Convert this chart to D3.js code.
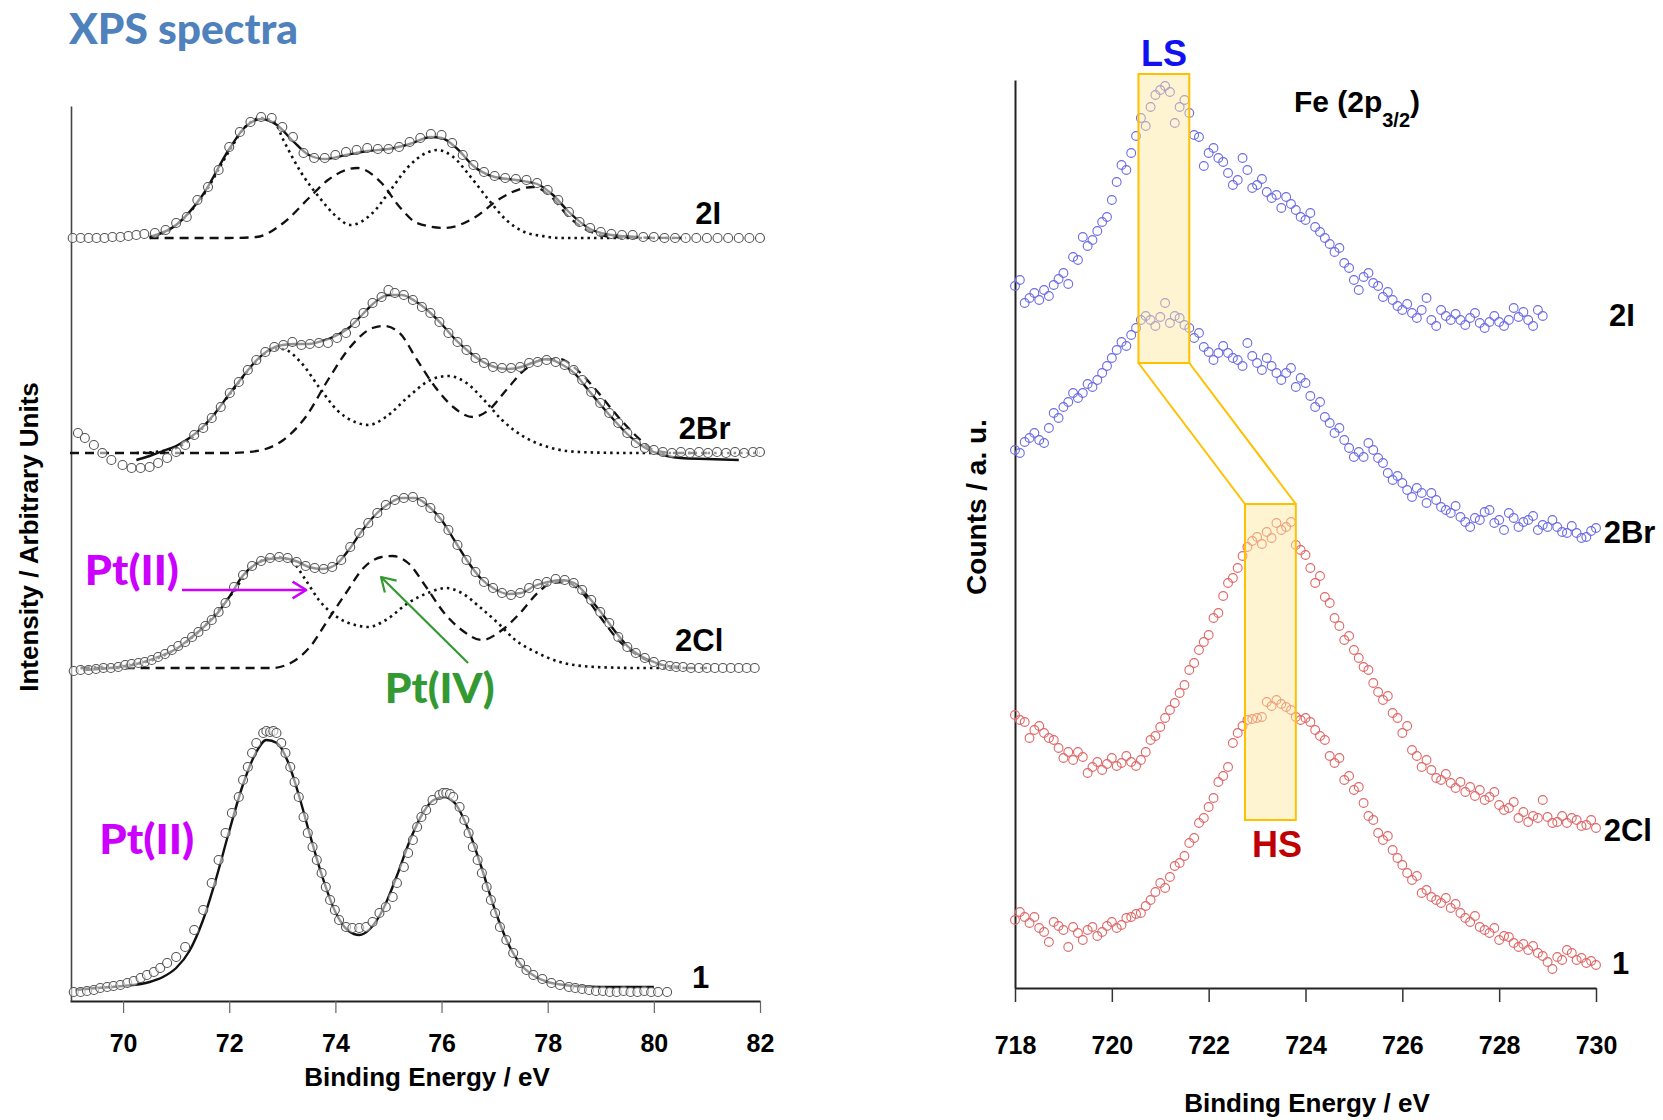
<!DOCTYPE html>
<html><head><meta charset="utf-8">
<script src="https://cdn.jsdelivr.net/npm/d3@7"></script>
<style>
body{margin:0;background:#fff}
svg text{font-family:"Liberation Sans",Arial,Helvetica,sans-serif;font-weight:bold;fill:#000}
</style>
</head><body>
<svg id="chart" width="1663" height="1120"></svg>
<script>
// ---------------- LEFT PANEL: Pt 4f spectra (binding energy eV, intensity a.u.) ----------------
const ptTicks = [70,72,74,76,78,80,82];
const ptSeries = ["2I","2Br","2Cl","1"];

const pt2I_data = [[69.05,763],[69.2,763],[69.35,763],[69.5,763],[69.65,763],[69.8,764],[69.95,764],[70.1,765],[70.25,766],[70.4,767],[70.6,768],[70.8,771],[71.0,778],[71.2,784],[71.4,801],[71.6,814],[71.8,831],[72.0,854],[72.2,869],[72.4,879],[72.6,884],[72.8,883],[73.0,874],[73.2,864],[73.4,848],[73.6,843],[73.8,843],[74.0,846],[74.2,849],[74.4,851],[74.6,853],[74.8,852],[75.0,852],[75.2,854],[75.4,859],[75.6,863],[75.8,867],[76.0,866],[76.2,858],[76.4,846],[76.6,836],[76.8,829],[77.0,825],[77.2,823],[77.4,822],[77.6,821],[77.8,818],[78.0,811],[78.2,801],[78.4,789],[78.6,779],[78.8,773],[79.0,769],[79.2,767],[79.4,766],[79.6,766],[79.8,764],[80.0,764],[80.2,763],[80.4,763],[80.6,763],[80.8,763],[81.0,763],[81.2,763],[81.4,763],[81.6,763],[81.8,763],[82.0,763]];
const pt2I_fit = [[70.5,764],[71.0,776],[71.5,806],[72.0,852],[72.3,874],[72.6,882],[72.9,876],[73.2,860],[73.5,846],[73.8,842],[74.2,846],[74.6,850],[75.0,852],[75.4,857],[75.8,864],[76.0,863],[76.3,852],[76.6,835],[77.0,824],[77.4,821],[77.8,817],[78.1,806],[78.4,789],[78.8,772],[79.2,766],[79.7,764]];
const pt2I_ptII = [[70.5,763],[71.0,776],[71.5,805],[72.0,850],[72.3,874],[72.6,883],[72.85,879],[73.02,861],[73.36,828],[73.69,804],[74.03,784],[74.28,776],[74.7,788],[75.04,811],[75.37,834],[75.71,848],[75.92,851],[76.22,844],[76.55,824],[76.89,801],[77.22,781],[77.56,769],[77.9,765],[78.23,763],[80.6,763]];
const pt2I_ptIV = [[70.5,763],[72.0,763],[72.51,764],[73.02,778],[73.52,804],[73.86,821],[74.2,831],[74.41,833],[74.87,818],[75.21,794],[75.54,778],[76.05,773],[76.64,784],[77.06,801],[77.56,813],[77.73,814],[78.07,804],[78.4,784],[78.74,771],[79.24,764],[80.5,763]];

const pt2Br_data = [[69.15,568],[69.28,563],[69.45,556],[69.61,548],[69.78,541],[69.99,536],[70.16,533],[70.33,533],[70.5,534],[70.66,538],[70.83,543],[71.0,549],[71.17,556],[71.34,566],[71.51,573],[71.67,583],[71.84,594],[72.01,608],[72.18,619],[72.35,631],[72.51,641],[72.68,649],[72.85,654],[73.02,656],[73.19,659],[73.36,656],[73.52,657],[73.69,658],[73.86,658],[74.03,663],[74.2,668],[74.37,678],[74.53,688],[74.7,698],[74.87,704],[75.0,711],[75.12,708],[75.29,706],[75.46,701],[75.63,694],[75.79,688],[75.96,679],[76.13,668],[76.3,659],[76.47,651],[76.64,643],[76.8,638],[76.97,634],[77.14,633],[77.31,633],[77.48,634],[77.65,638],[77.81,639],[77.98,641],[78.15,639],[78.32,636],[78.49,631],[78.65,621],[78.82,609],[78.99,598],[79.16,588],[79.33,578],[79.5,568],[79.66,558],[79.83,553],[80.0,551],[80.17,549],[80.34,548],[80.51,549],[80.68,548],[80.85,549],[81.02,548],[81.19,549],[81.36,548],[81.53,549],[81.7,548],[81.87,549],[82.0,549]];
const pt2Br_fit = [[70.25,541],[70.5,545],[70.75,550],[71.0,555],[71.25,563],[71.5,574],[71.75,589],[72.0,607],[72.25,624],[72.5,640],[72.75,651],[73.0,656],[73.25,657],[73.5,657],[73.75,660],[74.0,665],[74.25,673],[74.5,686],[74.75,699],[75.0,706],[75.25,706],[75.5,700],[75.75,690],[76.0,677],[76.25,662],[76.5,650],[76.75,640],[77.0,634],[77.25,632],[77.5,634],[77.75,639],[78.0,642],[78.25,637],[78.5,628],[78.75,612],[79.0,596],[79.25,581],[79.5,567],[79.75,556],[80.0,549],[80.25,545],[80.5,543],[81.0,542],[81.6,541]];
const pt2Br_ptII = [[70.25,548],[70.75,550],[71.0,553],[71.5,573],[72.0,606],[72.4,633],[72.8,651],[73.0,652],[73.36,638],[73.69,614],[74.03,591],[74.37,579],[74.62,576],[74.95,584],[75.37,604],[75.79,621],[76.13,625],[76.47,618],[76.8,601],[77.14,581],[77.56,564],[78.07,553],[78.6,549],[79.5,548],[82.0,548]];
const pt2Br_ptIV = [[69.0,548],[72.0,548],[72.51,550],[73.02,561],[73.44,584],[73.86,621],[74.28,654],[74.7,673],[74.91,675],[75.21,668],[75.54,641],[75.88,614],[76.22,594],[76.59,584],[76.89,591],[77.22,611],[77.56,631],[77.9,641],[78.23,642],[78.49,634],[78.91,611],[79.33,584],[79.75,561],[80.0,551],[80.4,548],[81.0,548]];

const pt2Cl_data = [[69.07,330],[69.2,331],[69.35,331],[69.49,332],[69.63,333],[69.77,333],[69.91,334],[70.04,336],[70.16,337],[70.29,338],[70.41,339],[70.54,341],[70.66,344],[70.79,347],[70.92,351],[71.04,355],[71.17,359],[71.3,364],[71.42,369],[71.55,375],[71.67,381],[71.8,389],[71.93,398],[72.09,414],[72.26,426],[72.43,435],[72.6,440],[72.77,443],[72.94,444],[73.1,443],[73.27,439],[73.44,435],[73.61,433],[73.78,432],[73.94,434],[74.11,441],[74.28,454],[74.45,468],[74.62,478],[74.79,488],[74.95,496],[75.12,501],[75.29,503],[75.46,504],[75.63,499],[75.79,493],[75.96,483],[76.13,471],[76.3,456],[76.47,441],[76.64,429],[76.8,419],[76.97,413],[77.14,408],[77.31,406],[77.48,408],[77.65,413],[77.81,417],[77.98,419],[78.15,422],[78.32,421],[78.49,418],[78.65,411],[78.82,401],[78.99,389],[79.16,378],[79.33,364],[79.5,354],[79.66,348],[79.83,343],[80.0,339],[80.17,336],[80.3,335],[80.42,334],[80.55,334],[80.7,333],[80.85,333],[81.0,333],[81.15,333],[81.3,333],[81.45,333],[81.6,333],[81.75,333],[81.9,333]];
const pt2Cl_fit = [[69.25,331],[69.75,333],[70.25,337],[70.75,346],[71.0,352],[71.25,362],[71.5,373],[71.75,386],[72.0,404],[72.25,425],[72.5,437],[72.75,442],[73.0,443],[73.25,440],[73.5,434],[73.75,432],[74.0,436],[74.25,451],[74.5,470],[74.75,486],[75.0,497],[75.25,503],[75.5,503],[75.75,495],[76.0,481],[76.25,460],[76.5,439],[76.75,422],[77.0,412],[77.25,407],[77.5,408],[77.75,415],[78.0,419],[78.25,421],[78.5,418],[78.75,405],[79.0,389],[79.25,371],[79.5,355],[79.75,345],[80.0,339],[80.25,335],[80.5,334]];
const pt2Cl_ptII = [[69.2,333],[70.0,336],[70.5,340],[71.0,352],[71.5,373],[72.0,404],[72.5,437],[72.9,444],[73.19,439],[73.44,421],[73.69,401],[74.03,384],[74.37,376],[74.62,374],[74.95,381],[75.37,398],[75.79,409],[76.09,413],[76.38,408],[76.72,394],[77.06,378],[77.39,361],[77.81,348],[78.23,339],[78.91,334],[79.75,333],[80.6,333]];
const pt2Cl_ptIV = [[69.2,333],[72.8,333],[73.19,339],[73.52,354],[73.86,381],[74.2,408],[74.53,433],[74.87,444],[75.08,445],[75.37,438],[75.71,414],[76.05,388],[76.38,371],[76.76,361],[77.14,371],[77.48,388],[77.81,408],[78.07,418],[78.32,419],[78.65,408],[78.99,384],[79.33,361],[79.75,344],[80.17,336],[80.59,333],[81.0,333]];

const pt1_data = [[69.07,9],[69.2,9],[69.32,10],[69.45,11],[69.57,13],[69.7,14],[69.82,15],[69.95,16],[70.08,18],[70.2,20],[70.33,23],[70.45,26],[70.58,29],[70.7,33],[70.83,38],[71.0,44],[71.17,54],[71.34,71],[71.51,91],[71.67,118],[71.8,141],[71.93,168],[72.05,188],[72.18,204],[72.26,221],[72.35,234],[72.43,248],[72.51,258],[72.64,268],[72.7,270],[72.77,269],[72.83,270],[72.89,268],[72.98,258],[73.06,248],[73.15,234],[73.23,219],[73.31,204],[73.4,184],[73.48,168],[73.57,154],[73.65,141],[73.74,128],[73.82,114],[73.9,101],[73.99,91],[74.07,81],[74.2,74],[74.32,73],[74.45,73],[74.58,74],[74.7,79],[74.83,88],[74.95,94],[75.08,104],[75.16,118],[75.29,134],[75.37,148],[75.46,161],[75.54,174],[75.62,184],[75.71,191],[75.83,201],[75.96,206],[76.03,208],[76.09,208],[76.16,207],[76.22,204],[76.34,194],[76.43,181],[76.51,168],[76.59,154],[76.68,141],[76.76,128],[76.85,114],[76.93,101],[77.01,88],[77.1,74],[77.22,61],[77.35,48],[77.48,38],[77.6,31],[77.73,26],[77.9,22],[78.07,18],[78.23,16],[78.4,14],[78.52,13],[78.65,12],[78.78,11],[78.91,10],[79.04,10],[79.17,9],[79.3,9],[79.43,10],[79.56,9],[79.69,9],[79.82,10],[79.95,9],[80.08,9],[80.25,9]];
const pt1_fit = [[69.1,11],[69.5,13],[70.0,15],[70.5,19],[70.75,24],[71.0,33],[71.25,50],[71.5,80],[71.75,122],[72.0,170],[72.25,215],[72.5,248],[72.7,261],[72.9,258],[73.1,240],[73.3,208],[73.5,170],[73.75,125],[74.0,89],[74.25,70],[74.45,66],[74.65,72],[74.9,92],[75.15,124],[75.4,160],[75.65,188],[75.85,201],[76.05,204],[76.25,198],[76.5,172],[76.75,134],[77.0,92],[77.25,58],[77.5,36],[77.75,25],[78.0,19],[78.5,15],[79.0,14],[80.0,14]];

// ---------------- RIGHT PANEL: Fe 2p3/2 spectra, 0.1 eV steps from 718 eV ----------------
const feTicks = [718,720,722,724,726,728,730];
const feStart = 718, feStep = 0.1;
const fe2I = [702,708,685,690,695,688,698,692,703,709,715,704,731,728,751,742,748,757,766,771,788,806,823,818,835,852,870,862,881,893,898,902,896,865,881,888,875,853,851,822,835,840,830,826,815,803,808,830,818,800,803,809,796,790,793,780,791,784,778,771,768,775,761,756,750,744,736,740,725,720,708,698,711,715,705,702,691,696,688,682,678,684,675,670,678,690,668,662,678,672,668,674,668,663,670,675,665,660,666,672,666,662,668,680,671,676,668,662,678,672];
const fe2Br = [538,535,546,550,555,548,545,560,575,570,581,586,595,590,595,604,601,608,615,622,630,638,646,642,653,660,668,672,668,662,671,685,665,672,670,663,660,650,655,641,636,628,635,642,635,630,628,622,645,632,625,618,630,622,615,608,615,620,601,610,605,592,581,586,571,565,555,560,548,540,531,536,531,545,538,530,525,515,508,512,505,498,491,500,495,485,495,488,481,478,475,482,471,466,461,470,468,476,478,465,468,458,475,470,461,466,468,472,458,463,461,468,461,456,455,462,455,450,451,457,460];
const fe2Cl = [273,268,266,250,258,262,255,250,248,240,230,236,228,236,231,215,221,226,218,224,230,222,225,232,226,222,228,236,248,252,261,270,278,285,295,303,318,325,338,346,353,370,375,392,405,410,420,432,441,447,451,444,456,450,465,458,461,466,443,438,433,420,405,412,391,385,370,362,348,352,338,330,321,318,305,296,288,292,275,270,255,262,238,232,221,228,218,210,208,214,205,200,206,196,201,192,198,188,191,196,183,178,180,186,170,176,166,172,170,188,171,165,166,172,165,170,168,162,163,168,160];
const fe1 = [68,76,71,65,71,60,56,46,66,62,58,41,61,55,48,58,61,52,56,62,66,60,63,70,71,74,75,82,88,96,105,100,111,122,125,132,145,150,165,170,181,190,206,212,221,245,255,262,268,269,270,271,286,282,288,284,281,278,271,268,270,266,258,252,248,232,225,230,208,212,198,201,185,172,168,155,148,152,138,130,123,115,108,112,95,98,91,88,85,90,80,84,75,70,66,72,61,58,55,60,48,52,51,45,41,44,38,42,35,32,26,19,31,28,38,35,28,30,25,27,23];
const feSeries = ["2I","2Br","2Cl","1"];
// spin-state marker bands (eV range, intensity range)
const lsBand = {e0:720.55, e1:721.6, i0:625, i1:914};
const hsBand = {e0:722.75, e1:723.8, i0:168, i1:484};

// ---------------- SCALES ----------------
const svg = d3.select("#chart");
const xL = d3.scaleLinear().domain([69,82]).range([70,760]);
const yL = d3.scaleLinear().domain([0,895]).range([1001,106]);
const xR = d3.scaleLinear().domain([718,730]).range([1015,1596]);
const yR = d3.scaleLinear().domain([0,908]).range([988,80]);

// ---------------- TITLE ----------------
svg.append("text").attr("x",69).attr("y",44)
  .attr("textLength",229).attr("lengthAdjust","spacingAndGlyphs")
  .style("font-family","Lato, 'Open Sans', sans-serif").style("font-size","42px").style("font-weight","900")
  .style("fill","#4f81bd").text("XPS spectra");

// ---------------- LEFT PANEL ----------------
const gL = svg.append("g");
const ax1 = gL.append("g").attr("transform","translate(0,1001)")
  .call(d3.axisBottom(xL).tickValues(ptTicks).tickSize(12).tickSizeOuter(0).tickPadding(21));
ax1.select(".domain").attr("stroke","#222").attr("stroke-width",2);
ax1.selectAll(".tick line").attr("stroke","#666").attr("stroke-width",1.2);
ax1.selectAll(".tick text").style("font-size","25px").style("font-family","'Liberation Sans',Arial,sans-serif").style("font-weight","bold").attr("fill","#000");
const ay1 = gL.append("g").attr("transform","translate(71,0)")
  .call(d3.axisLeft(yL).tickValues([]).tickSizeOuter(0));
ay1.select(".domain").attr("stroke","#444").attr("stroke-width",1.6);

const lineL = d3.line().x(d=>xL(d[0])).y(d=>yL(d[1])).curve(d3.curveMonotoneX);
const leftSets = [
  {data:pt2I_data, fit:pt2I_fit, a:pt2I_ptII, b:pt2I_ptIV},
  {data:pt2Br_data, fit:pt2Br_fit, a:pt2Br_ptII, b:pt2Br_ptIV},
  {data:pt2Cl_data, fit:pt2Cl_fit, a:pt2Cl_ptII, b:pt2Cl_ptIV},
  {data:pt1_data, fit:pt1_fit, a:null, b:null}
];
leftSets.forEach(s=>{
  if(s.a) gL.append("path").attr("d",lineL(s.a)).attr("fill","none").attr("stroke","#111").attr("stroke-width",2.6).attr("stroke-dasharray","2.5,4");
  if(s.b) gL.append("path").attr("d",lineL(s.b)).attr("fill","none").attr("stroke","#111").attr("stroke-width",2.3).attr("stroke-dasharray","9,6");
  gL.append("path").attr("d",lineL(s.fit)).attr("fill","none").attr("stroke","#111").attr("stroke-width",2.4);
  gL.append("g").selectAll("circle").data(s.data).join("circle")
    .attr("cx",d=>xL(d[0])).attr("cy",d=>yL(d[1])).attr("r",4.5)
    .attr("fill","#fff").attr("fill-opacity",0.55).attr("stroke","#555").attr("stroke-width",1.1);
});
// series labels (left)
const leftLab = [{t:"2I",e:80.78,v:777},{t:"2Br",e:80.47,v:562},{t:"2Cl",e:80.40,v:350},{t:"1",e:80.72,v:13}];
gL.selectAll(".slab").data(leftLab).join("text").attr("class","slab")
  .attr("x",d=>xL(d.e)).attr("y",d=>yL(d.v)).style("font-size","31px").text(d=>d.t);

// axis titles left
gL.append("text").attr("x",427).attr("y",1086).attr("text-anchor","middle").style("font-size","26px").text("Binding Energy / eV");
gL.append("text").attr("transform","translate(38,537) rotate(-90)").attr("text-anchor","middle").style("font-size","26px").text("Intensity / Arbitrary Units");

// annotations left
const calibri = "Lato, 'Open Sans', sans-serif";
function arrow(g, e0,v0,e1,v1,color,w){
  const x0=xL(e0),y0=yL(v0),x1=xL(e1),y1=yL(v1);
  const ang=Math.atan2(y1-y0,x1-x0), L=16, sp=0.55;
  g.append("line").attr("x1",x0).attr("y1",y0).attr("x2",x1).attr("y2",y1).attr("stroke",color).attr("stroke-width",w);
  g.append("path").attr("d",`M${x1-L*Math.cos(ang-sp)},${y1-L*Math.sin(ang-sp)}L${x1},${y1}L${x1-L*Math.cos(ang+sp)},${y1-L*Math.sin(ang+sp)}`)
    .attr("fill","none").attr("stroke",color).attr("stroke-width",w).attr("stroke-linejoin","round");
}
arrow(gL,71.11,411,73.45,411,"#cc00ff",2.4);
arrow(gL,76.50,338,74.86,424,"#339933",2.2);
const annL = [{t:"Pt(II)",e:69.28,v:416,c:"#cc00ff",w:94},{t:"Pt(IV)",e:74.93,v:298,c:"#339933",w:110},{t:"Pt(II)",e:69.55,v:147,c:"#cc00ff",w:95}];
gL.selectAll(".ann").data(annL).join("text").attr("class","ann")
  .attr("x",d=>xL(d.e)).attr("y",d=>yL(d.v)).attr("textLength",d=>d.w).attr("lengthAdjust","spacingAndGlyphs")
  .style("font-family",calibri).style("font-size","41px").style("font-weight","900").style("fill",d=>d.c).text(d=>d.t);

// ---------------- RIGHT PANEL ----------------
const gR = svg.append("g");
const ax2 = gR.append("g").attr("transform","translate(0,988)")
  .call(d3.axisBottom(xR).tickValues(feTicks).tickSize(14).tickSizeOuter(0).tickPadding(34));
ax2.select(".domain").attr("stroke","#222").attr("stroke-width",2);
ax2.selectAll(".tick line").attr("stroke","#333").attr("stroke-width",1.5);
ax2.selectAll(".tick text").style("font-size","25px").style("font-family","'Liberation Sans',Arial,sans-serif").style("font-weight","bold").attr("fill","#000");
const ay2 = gR.append("g").attr("transform","translate(1015,0)")
  .call(d3.axisLeft(yR).tickValues([]).tickSizeOuter(0));
ay2.select(".domain").attr("stroke","#222").attr("stroke-width",2);

const feSets = [{v:fe2I,c:"#6b6be6"},{v:fe2Br,c:"#6b6be6"},{v:fe2Cl,c:"#e06666"},{v:fe1,c:"#e06666"}];
feSets.forEach(s=>{
  gR.append("g").selectAll("circle").data(s.v).join("circle")
    .attr("cx",(d,i)=>xR(feStart+i*feStep)).attr("cy",d=>yR(d)).attr("r",4.4)
    .attr("fill","none").attr("stroke",s.c).attr("stroke-width",1.1);
});

// LS / HS bands
const band = b=>({x:xR(b.e0),y:yR(b.i1),w:xR(b.e1)-xR(b.e0),h:yR(b.i0)-yR(b.i1)});
[lsBand,hsBand].forEach(b=>{
  const r=band(b);
  gR.append("rect").attr("x",r.x).attr("y",r.y).attr("width",r.w).attr("height",r.h)
    .attr("fill","#ffe699").attr("fill-opacity",0.45).attr("stroke","#ffc000").attr("stroke-width",2);
});
gR.append("line").attr("x1",xR(lsBand.e0)).attr("y1",yR(lsBand.i0)).attr("x2",xR(hsBand.e0)).attr("y2",yR(hsBand.i1)).attr("stroke","#ffc000").attr("stroke-width",2);
gR.append("line").attr("x1",xR(lsBand.e1)).attr("y1",yR(lsBand.i0)).attr("x2",xR(hsBand.e1)).attr("y2",yR(hsBand.i1)).attr("stroke","#ffc000").attr("stroke-width",2);

gR.append("text").attr("x",xR(721.08)).attr("y",yR(922)).attr("text-anchor","middle").style("font-size","36px").style("fill","#1010f0").text("LS");
gR.append("text").attr("x",xR(723.41)).attr("y",yR(131)).attr("text-anchor","middle").style("font-size","36px").style("fill","#c00000").text("HS");

const fe = gR.append("text").attr("x",xR(723.76)).attr("y",yR(876)).style("font-size","30px");
fe.append("tspan").text("Fe (2p");
fe.append("tspan").attr("dy",15).style("font-size","20px").text("3/2");
fe.append("tspan").attr("dy",-15).text(")");

const rightLab = [{t:"2I",e:730.27,v:662},{t:"2Br",e:730.16,v:445},{t:"2Cl",e:730.16,v:147},{t:"1",e:730.33,v:14}];
gR.selectAll(".rlab").data(rightLab).join("text").attr("class","rlab")
  .attr("x",d=>xR(d.e)).attr("y",d=>yR(d.v)).style("font-size","31px").text(d=>d.t);

gR.append("text").attr("x",1307).attr("y",1112).attr("text-anchor","middle").style("font-size","26px").text("Binding Energy / eV");
gR.append("text").attr("transform","translate(986,507) rotate(-90)").attr("text-anchor","middle").style("font-size","28px").text("Counts / a. u.");
</script>
</body></html>
